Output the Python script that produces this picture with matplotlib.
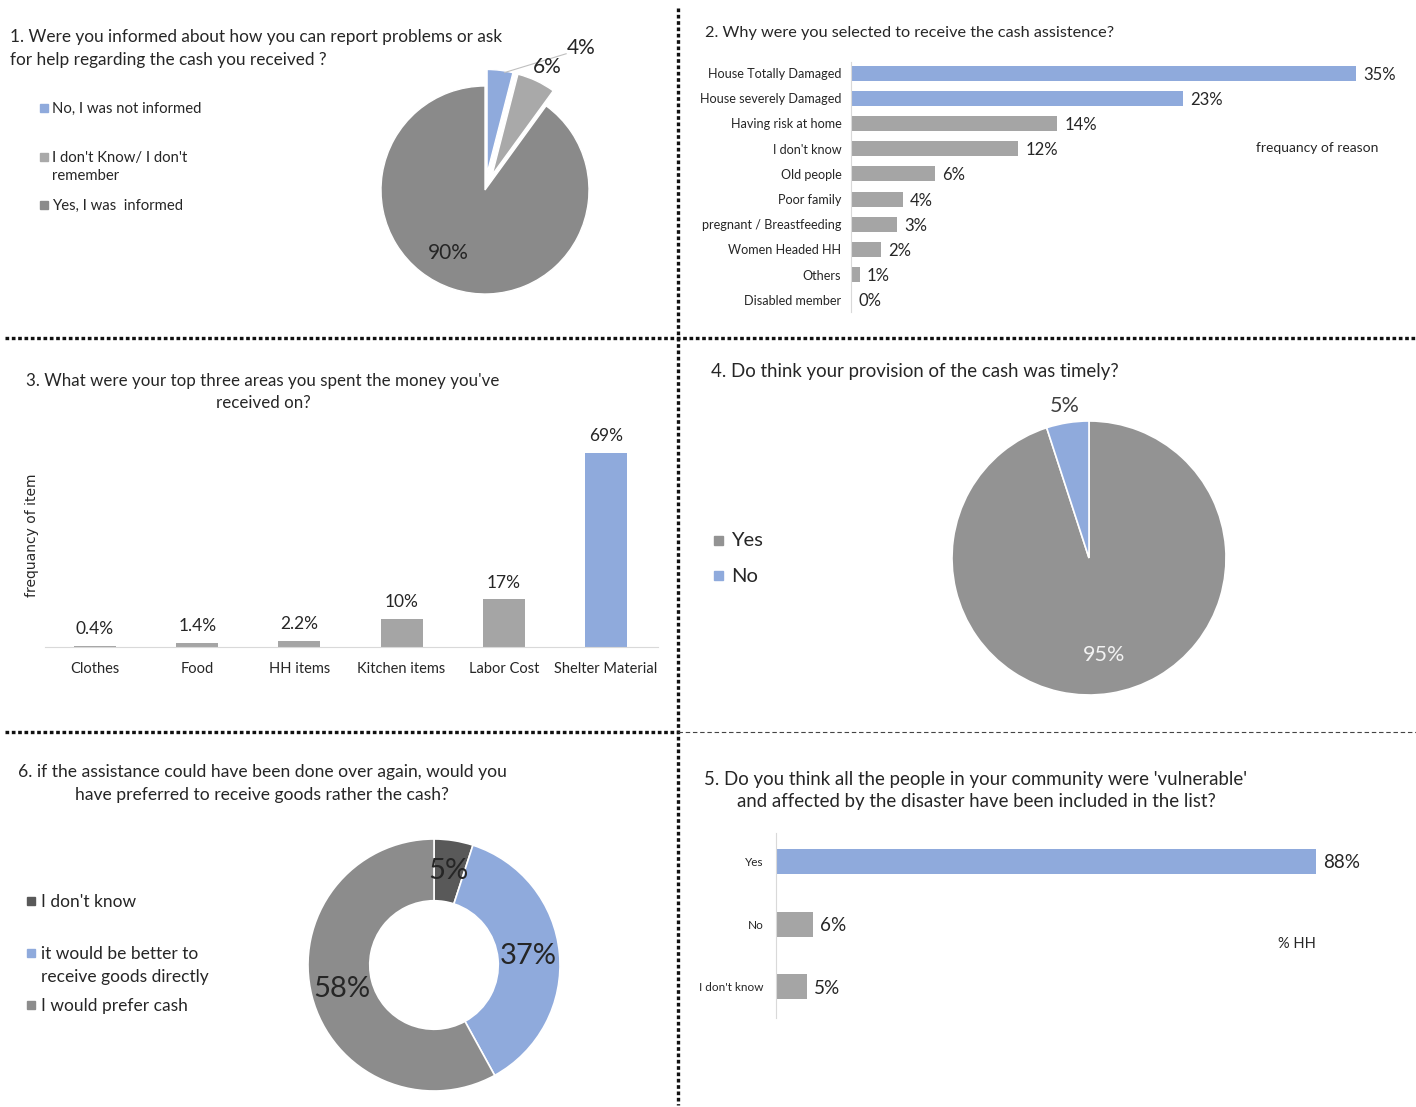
import numpy as np
import matplotlib
matplotlib.use('Agg')
import matplotlib.pyplot as plt
from matplotlib.lines import Line2D
from matplotlib.patches import Rectangle

plt.rcParams['font.family'] = ['Lato', 'DejaVu Sans']

W, H = 1416, 1107

BLUE = '#8faadc'
GRAY = '#a5a5a5'
TXT = '#262626'

# 1. informed about reporting problems
q1_labels = ['No, I was not informed', "I don't Know/ I don't\nremember", 'Yes, I was  informed']
q1_values = [4, 6, 90]
q1_colors = [BLUE, '#a9a9a9', '#8a8a8a']

# 2. why selected
q2_cats = ['House Totally Damaged', 'House severely Damaged', 'Having risk at home', "I don't know",
           'Old people', 'Poor family', 'pregnant / Breastfeeding', 'Women Headed HH', 'Others',
           'Disabled member']
q2_values = [35, 23, 14.3, 11.6, 5.8, 3.6, 3.2, 2.1, 0.6, 0]
q2_text = ['35%', '23%', '14%', '12%', '6%', '4%', '3%', '2%', '1%', '0%']

# 3. spending areas
q3_cats = ['Clothes', 'Food', 'HH items', 'Kitchen items', 'Labor Cost', 'Shelter Material']
q3_values = [0.4, 1.4, 2.2, 10, 17, 69]
q3_text = ['0.4%', '1.4%', '2.2%', '10%', '17%', '69%']

# 4. timely
q4_labels = ['Yes', 'No']
q4_values = [95, 5]

# 5. vulnerable included
q5_cats = ['Yes', 'No', "I don't know"]
q5_values = [88, 6, 5]

# 6. goods vs cash
q6_labels = ["I don't know", 'it would be better to\nreceive goods directly', 'I would prefer cash']
q6_values = [5, 37, 58]
q6_colors = ['#595959', BLUE, '#8c8c8c']


fig = plt.figure(figsize=(W / 100, H / 100), dpi=100)


def ptext(x, y, s, size, ha='left', va='center', color=TXT, **kw):
    fig.text(x / W, 1 - y / H, s, fontsize=size, ha=ha, va=va, color=color, **kw)


def legend_text(x, y, s, size, step):
    # multi-line legend entries, one line per row
    for k, line in enumerate(s.split('\n')):
        ptext(x, y + k * step, line, size)


def px_axes(l, t, r, b):
    return fig.add_axes([l / W, 1 - b / H, (r - l) / W, (b - t) / H])


def pie_axes(cx, cy, r, lim=1.6):
    half = r * lim
    ax = fig.add_axes([(cx - half) / W, 1 - (cy + half) / H, 2 * half / W, 2 * half / H])
    return ax


def fix_limits(ax, lim=1.6):
    ax.set_xlim(-lim, lim)
    ax.set_ylim(-lim, lim)
    ax.axis('off')


def legend_square(x, y, color, s=8):
    fig.patches.append(Rectangle(((x) / W, 1 - (y + s / 2) / H), s / W, s / H,
                                 transform=fig.transFigure, color=color))


def bisector(w, d, turn=0):
    a = np.deg2rad((w.theta1 + w.theta2) / 2 + turn)
    return w.center[0] + d * np.cos(a), w.center[1] + d * np.sin(a)


# ---------- panel 1 ----------
ptext(10, 37, '1. Were you informed about how you can report problems or ask', 12.45)
ptext(10, 60, 'for help regarding the cash you received ?', 12.45)
for lab, col, y in zip(q1_labels, q1_colors, [108, 157, 205]):
    legend_square(40, y, col)
    legend_text(52, y + 1, lab, 10.7, 18)

ax1 = pie_axes(485, 190, 104)
w1, _ = ax1.pie(q1_values, colors=q1_colors, startangle=90, counterclock=False,
                explode=[0.16, 0.16, 0], wedgeprops=dict(edgecolor='white', linewidth=1))
fix_limits(ax1)
x, y = bisector(w1[2], 0.7, turn=-12)
ax1.text(x, y, '90%', fontsize=15, ha='center', va='center', color=TXT)
ax1.text(0.92, 1.37, '4%', fontsize=15, ha='center', va='center', color=TXT)
ax1.text(0.6, 1.18, '6%', fontsize=15, ha='center', va='center', color=TXT)
ax1.plot([0.19, 0.78], [1.13, 1.31], color='#bfbfbf', lw=0.8)

# ---------- panel 2 ----------
ptext(705, 33, '2. Why were you selected to receive the cash assistence?', 11.7)
ax2 = px_axes(851, 62, 1399, 312)
ypos = np.arange(len(q2_cats))
cols2 = [BLUE, BLUE] + [GRAY] * (len(q2_cats) - 2)
ax2.barh(ypos, q2_values, height=0.6, color=cols2)
for yi, v, t in zip(ypos, q2_values, q2_text):
    ax2.text(v + 0.5, yi + 0.06, t, fontsize=12, va='center', ha='left', color=TXT)
ax2.set_xlim(0, 38)
ax2.set_ylim(len(q2_cats) - 0.52, -0.44)
ax2.set_yticks(ypos)
ax2.set_yticklabels(q2_cats, fontsize=9.1, color=TXT)
ax2.set_xticks([])
ax2.tick_params(axis='y', length=0, pad=7)
for s in ['top', 'right', 'bottom']:
    ax2.spines[s].set_visible(False)
ax2.spines['left'].set_color('#d9d9d9')
ptext(1317, 148, 'frequancy of reason', 10, ha='center')

# ---------- panel 3 ----------
ptext(263, 381, "3. What were your top three areas you spent the money you've", 12.15, ha='center')
ptext(263, 403, 'received on?', 12.15, ha='center')
ax3 = px_axes(45, 422, 658, 647)
xpos = np.arange(len(q3_cats))
cols3 = [GRAY] * (len(q3_cats) - 1) + [BLUE]
ax3.bar(xpos, q3_values, width=0.41, color=cols3)
for xi, v, t in zip(xpos, q3_values, q3_text):
    ax3.text(xi, v + 5.9, t, fontsize=12.5, ha='center', va='center', color=TXT)
ax3.set_ylim(0, 80)
ax3.set_xlim(-0.49, 5.51)
ax3.set_xticks(xpos)
ax3.set_xticklabels(q3_cats, fontsize=10.5, color=TXT)
ax3.set_yticks([])
ax3.tick_params(axis='x', length=0, pad=11)
for s in ['top', 'right', 'left']:
    ax3.spines[s].set_visible(False)
ax3.spines['bottom'].set_color('#d9d9d9')
ptext(32, 535, 'frequancy of item', 10, ha='center', rotation=90, family='DejaVu Sans')

# ---------- panel 4 ----------
ptext(711, 371, '4. Do think your provision of the cash was timely?', 13.4)
ax4 = pie_axes(1089, 558, 137)
w4, _ = ax4.pie(q4_values, colors=['#939393', BLUE], startangle=90, counterclock=False,
                wedgeprops=dict(edgecolor='white', linewidth=1.2))
fix_limits(ax4)
for w, v, d, c in zip(w4, q4_values, [0.72, 1.12], ['#f2f2f2', '#404040']):
    x, y = bisector(w, d)
    ax4.text(x, y, '%d%%' % v, fontsize=15.5, ha='center', va='center', color=c)
legend_square(714, 540, '#939393', 9)
legend_square(714, 575, BLUE, 9)
ptext(731, 541, q4_labels[0], 14.5)
ptext(731, 576, q4_labels[1], 14.5)

# ---------- panel 5 ----------
ptext(976, 779, "5. Do you think all the people in your community were 'vulnerable'", 13.4, ha='center')
ptext(976, 802, 'and affected by the disaster have been included in the list?', 13.4, ha='center')
ax5 = px_axes(776, 833, 1400, 1018)
ypos5 = np.arange(len(q5_cats))
ax5.barh(ypos5, q5_values, height=0.4, color=[BLUE, GRAY, GRAY])
for yi, v in zip(ypos5, q5_values):
    ax5.text(v + 1.15, yi + 0.02, '%d%%' % v, fontsize=13.6, va='center', ha='left', color=TXT)
ax5.set_xlim(0, 101.6)
ax5.set_ylim(2.5, -0.46)
ax5.set_yticks(ypos5)
ax5.set_yticklabels(q5_cats, fontsize=8.5, color=TXT)
ax5.set_xticks([])
ax5.tick_params(axis='y', length=0, pad=9)
for s in ['top', 'right', 'bottom']:
    ax5.spines[s].set_visible(False)
ax5.spines['left'].set_color('#d9d9d9')
ptext(1297, 944, '% HH', 10.5, ha='center')

# ---------- panel 6 ----------
ptext(262, 772, '6. if the assistance could have been done over again, would you', 12.6, ha='center')
ptext(262, 795, 'have preferred to receive goods rather the cash?', 12.6, ha='center')
ax6 = pie_axes(434, 965, 126)
w6, _ = ax6.pie(q6_values, colors=q6_colors, startangle=90, counterclock=False,
                wedgeprops=dict(width=0.49, edgecolor='white', linewidth=1.2))
fix_limits(ax6)
for w, v in zip(w6, q6_values):
    x, y = bisector(w, 0.755)
    ax6.text(x, y, '%d%%' % v, fontsize=21, ha='center', va='center', color=TXT)
for lab, col, y in zip(q6_labels, q6_colors, [901, 953, 1005]):
    legend_square(27, y, col)
    legend_text(41, y + 1, lab, 12.5, 23)

# ---------- dividers ----------
heavy = dict(color='#111111', lw=2.4, linestyle=(0, (1.1, 0.8)))
fig.add_artist(Line2D([678 / W, 678 / W], [1 - 8 / H, 1 - 1105 / H], transform=fig.transFigure, **heavy))
fig.add_artist(Line2D([5 / W, 1], [1 - 338 / H, 1 - 338 / H], transform=fig.transFigure, **heavy))
fig.add_artist(Line2D([5 / W, 678 / W], [1 - 732 / H, 1 - 732 / H], transform=fig.transFigure, **heavy))
fig.add_artist(Line2D([678 / W, 1], [1 - 732 / H, 1 - 732 / H], transform=fig.transFigure,
                      color='#444444', lw=0.8, linestyle=(0, (4, 2.5))))

fig.savefig('out.png', dpi=100)
